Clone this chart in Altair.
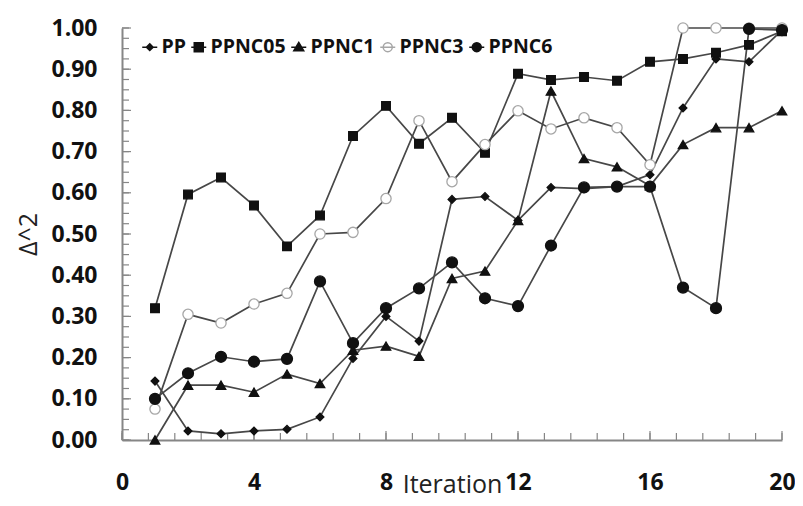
import altair as alt
import pandas as pd

iterations = list(range(1, 21))
series_names = ["PP", "PPNC05", "PPNC1", "PPNC3", "PPNC6"]
pp = [0.143, 0.022, 0.015, 0.022, 0.026, 0.056, 0.198, 0.300, 0.240, 0.584,
      0.591, 0.533, 0.613, 0.610, 0.615, 0.644, 0.806, 0.925, 0.918, 0.995]
ppnc05 = [0.320, 0.596, 0.637, 0.569, 0.470, 0.545, 0.738, 0.811, 0.719, 0.782,
          0.697, 0.889, 0.874, 0.881, 0.872, 0.918, 0.925, 0.940, 0.959, 0.992]
ppnc1 = [0.000, 0.133, 0.133, 0.116, 0.160, 0.137, 0.218, 0.228, 0.203, 0.392,
         0.410, 0.533, 0.847, 0.683, 0.663, 0.617, 0.717, 0.758, 0.758, 0.799]
ppnc3 = [0.075, 0.305, 0.284, 0.330, 0.356, 0.500, 0.504, 0.586, 0.775, 0.627,
         0.717, 0.799, 0.755, 0.782, 0.758, 0.668, 1.000, 1.000, 1.000, 1.000]
ppnc6 = [0.100, 0.162, 0.202, 0.190, 0.197, 0.385, 0.235, 0.320, 0.368, 0.431,
         0.344, 0.325, 0.472, 0.613, 0.615, 0.615, 0.370, 0.320, 0.998, 0.995]

x_labels = [0, 4, 8, 12, 16, 20]
y_labels = [0.0, 0.1, 0.2, 0.3, 0.4, 0.5, 0.6, 0.7, 0.8, 0.9, 1.0]
x_minor = [round(i * 0.8, 2) for i in range(26)]
y_minor = [round(i * 0.025, 3) for i in range(41)]

rows = []
for name, vals in zip(series_names, [pp, ppnc05, ppnc1, ppnc3, ppnc6]):
    for it, v in zip(iterations, vals):
        rows.append({"Iteration": it, "value": v, "series": name})
df = pd.DataFrame(rows)

W, H = 660, 412
PAD_L, PAD_T, PAD_R, PAD_B = 114, 20, 13, 58
GRAY = "#868686"
FONT = "Open Sans"

x_scale = alt.Scale(domain=[0, 20], nice=False, zero=False)
y_scale = alt.Scale(domain=[0, 1], nice=False)

x_axis = alt.Axis(values=x_labels, format="d", ticks=False, labelPadding=31,
                  labelFlush=False,
                  labelFont=FONT, labelFontSize=23, labelFontWeight="bold",
                  labelColor="#111", domainColor=GRAY, domainWidth=2, grid=False,
                  title="Iteration", titleFont=FONT, titleFontSize=25,
                  titleFontWeight="normal", titleColor="#222",
                  titleBaseline="alphabetic", titleY=52)
y_axis = alt.Axis(values=y_labels, format=".2f", ticks=False, labelPadding=25,
                  labelFlush=False,
                  labelFont=FONT, labelFontSize=23, labelFontWeight="bold",
                  labelColor="#111", domainColor=GRAY, domainWidth=2, grid=False,
                  title="Δ^2", titleFont=FONT, titleFontSize=25,
                  titleFontWeight="normal", titleColor="#222", titlePadding=9)

plot_shapes = ["diamond", "square", "triangle-up", "circle", "circle"]
fills = ["#111111", "#111111", "#111111", "#ffffff", "#111111"]
strokes = ["#111111", "#111111", "#111111", "#a6a6a6", "#111111"]
sizes = [60, 120, 110, 105, 105]
legend_shapes = [
    "M-1,0H1M0,-0.45L0.45,0L0,0.45L-0.45,0Z",
    "M-1,0H1M-0.6,-0.6H0.6V0.6H-0.6Z",
    "M-1,0H1M0,-0.62L0.66,0.48H-0.66Z",
    "M-1,0H1M0.6,0A0.6,0.6,0,1,1,-0.6,0A0.6,0.6,0,1,1,0.6,0Z",
    "M-1,0H1M0.6,0A0.6,0.6,0,1,1,-0.6,0A0.6,0.6,0,1,1,0.6,0Z",
]

ytick_minor = alt.Chart(pd.DataFrame({"t": y_minor})).mark_rule(
    color=GRAY, strokeWidth=1.2).encode(
    y=alt.Y("t:Q", scale=y_scale, axis=y_axis), x=alt.value(0), x2=alt.value(7))
ytick_major = alt.Chart(pd.DataFrame({"t": y_labels})).mark_rule(
    color=GRAY, strokeWidth=1.2).encode(
    y=alt.Y("t:Q", scale=y_scale, axis=y_axis), x=alt.value(0), x2=alt.value(9))
xtick_minor = alt.Chart(pd.DataFrame({"t": x_minor})).mark_rule(
    color=GRAY, strokeWidth=1.2).encode(
    x=alt.X("t:Q", scale=x_scale, axis=x_axis), y=alt.value(H), y2=alt.value(H - 7))
xtick_major = alt.Chart(pd.DataFrame({"t": x_labels})).mark_rule(
    color=GRAY, strokeWidth=1.2).encode(
    x=alt.X("t:Q", scale=x_scale, axis=x_axis), y=alt.value(H), y2=alt.value(H - 9))

base = alt.Chart(df)
lines = base.mark_line(color="#474747", strokeWidth=1.7).encode(
    x=alt.X("Iteration:Q", scale=x_scale, axis=x_axis),
    y=alt.Y("value:Q", scale=y_scale, axis=y_axis),
    detail="series:N",
)
points = base.mark_point(filled=False, strokeWidth=1.3, opacity=1).encode(
    x=alt.X("Iteration:Q", scale=x_scale, axis=x_axis),
    y=alt.Y("value:Q", scale=y_scale, axis=y_axis),
    shape=alt.Shape("series:N", scale=alt.Scale(domain=series_names, range=plot_shapes), legend=None),
    fill=alt.Fill("series:N", scale=alt.Scale(domain=series_names, range=fills), legend=None),
    stroke=alt.Stroke("series:N", scale=alt.Scale(domain=series_names, range=strokes), legend=None),
    size=alt.Size("series:N", scale=alt.Scale(domain=series_names, range=sizes), legend=None),
)
legend_layer = base.mark_point(filled=False, opacity=0).encode(
    x=alt.X("Iteration:Q", scale=x_scale, axis=x_axis),
    y=alt.Y("value:Q", scale=y_scale, axis=y_axis),
    shape=alt.Shape("series:N", scale=alt.Scale(domain=series_names, range=legend_shapes),
                    legend=alt.Legend(title=None)),
    fill=alt.Fill("series:N", scale=alt.Scale(domain=series_names, range=fills),
                  legend=alt.Legend(title=None)),
    stroke=alt.Stroke("series:N", scale=alt.Scale(domain=series_names, range=strokes),
                      legend=alt.Legend(title=None)),
)

chart = alt.layer(
    ytick_minor, ytick_major, xtick_minor, xtick_major, lines, points, legend_layer
).resolve_scale(
    shape="independent", fill="independent", stroke="independent", size="independent"
).resolve_legend(
    shape="independent", fill="independent", stroke="independent", size="independent"
).properties(
    width=W, height=H,
    autosize=alt.AutoSizeParams(type="none"),
    padding={"left": PAD_L, "top": PAD_T, "right": PAD_R, "bottom": PAD_B},
).configure_view(stroke=None).configure_legend(
    orient="none", legendX=18, legendY=9, direction="horizontal",
    labelFont=FONT, labelFontSize=19.5, labelFontWeight="bold", labelColor="#111",
    symbolSize=225, symbolStrokeWidth=1.5, symbolOpacity=1, labelOffset=2,
    columnPadding=2, padding=0,
)

chart.save("out.html", embed_options={"renderer": "svg", "actions": False})
